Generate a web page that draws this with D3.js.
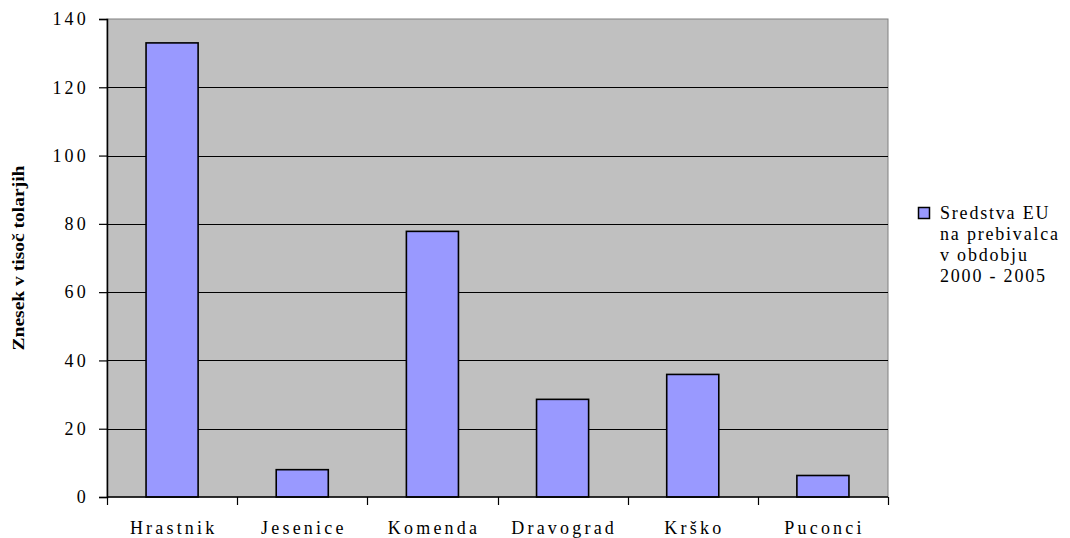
<!DOCTYPE html>
<html>
<head>
<meta charset="utf-8">
<script src="https://cdn.jsdelivr.net/npm/d3@7"></script>
<style>
  html, body { margin: 0; padding: 0; background: #ffffff; }
  svg { display: block; }
</style>
</head>
<body>
<svg id="chart" width="1070" height="538"></svg>
<script>
// Municipalities and EU funds per inhabitant (thousand tolars), 2000 - 2005
const categories = ["Hrastnik", "Jesenice", "Komenda", "Dravograd", "Krško", "Puconci"];
const values = [133, 8, 77.8, 28.6, 35.9, 6.3];
const yTicks = [0, 20, 40, 60, 80, 100, 120, 140];
const legendLines = ["Sredstva EU", "na prebivalca", "v obdobju", "2000 - 2005"];
const yTitle = "Znesek v tisoč tolarjih";

const SERIF = "'Times New Roman', 'Liberation Serif', 'DejaVu Serif', Times, serif";
const LS = 3.2;

const svg = d3.select("#chart");
const plot = { left: 107, right: 888, top: 19, bottom: 497 };

const x = d3.scaleBand()
  .domain(categories)
  .range([plot.left, plot.right])
  .paddingInner(0.6)
  .paddingOuter(0.3);

const xEdges = d3.scaleBand().domain(categories).range([plot.left, plot.right]);

const y = d3.scaleLinear().domain([0, 140]).range([plot.bottom, plot.top]);

// plot background
svg.append("rect")
  .attr("x", plot.left).attr("y", plot.top)
  .attr("width", plot.right - plot.left).attr("height", plot.bottom - plot.top)
  .attr("fill", "#c0c0c0").attr("stroke", "#808080").attr("stroke-width", 1);

// horizontal gridlines
svg.append("g").selectAll("line")
  .data(yTicks.filter(d => d > 0 && d < 140))
  .join("line")
  .attr("x1", plot.left).attr("x2", plot.right)
  .attr("y1", d => Math.round(y(d)) + 0.5).attr("y2", d => Math.round(y(d)) + 0.5)
  .attr("stroke", "#000").attr("stroke-width", 1);

// bars
svg.append("g").selectAll("rect")
  .data(values)
  .join("rect")
  .attr("x", (d, i) => x(categories[i]))
  .attr("width", x.bandwidth())
  .attr("y", d => y(d))
  .attr("height", d => y(0) - y(d))
  .attr("fill", "#9999ff")
  .attr("stroke", "#000")
  .attr("stroke-width", 1.6);

// y axis
const yAxis = d3.axisLeft(y).tickValues(yTicks).tickSize(8).tickPadding(10);
const gy = svg.append("g")
  .attr("transform", `translate(${plot.left},0)`)
  .call(yAxis)
  .attr("font-family", SERIF)
  .attr("font-size", 18);
gy.select(".domain").attr("stroke", "#000").attr("stroke-width", 1.5);
gy.selectAll(".tick line").attr("stroke", "#000").attr("stroke-width", 1.2);
gy.selectAll(".tick text")
  .attr("font-family", SERIF)
  .attr("letter-spacing", LS)
  .attr("fill", "#000");

// x axis: ticks sit on the category boundaries
const boundaries = categories.map(c => xEdges(c)).concat([plot.right]);
const gx = svg.append("g");
gx.append("line")
  .attr("x1", plot.left).attr("x2", plot.right)
  .attr("y1", plot.bottom).attr("y2", plot.bottom)
  .attr("stroke", "#000").attr("stroke-width", 1.5);
gx.selectAll("line.tk")
  .data(boundaries)
  .join("line")
  .attr("class", "tk")
  .attr("x1", d => Math.round(d) + 0.5).attr("x2", d => Math.round(d) + 0.5)
  .attr("y1", plot.bottom).attr("y2", plot.bottom + 8)
  .attr("stroke", "#000").attr("stroke-width", 1.2);
gx.selectAll("text")
  .data(categories)
  .join("text")
  .attr("x", d => xEdges(d) + xEdges.bandwidth() / 2 + LS / 2)
  .attr("y", 534)
  .attr("text-anchor", "middle")
  .attr("font-family", SERIF)
  .attr("font-size", 18)
  .attr("letter-spacing", LS)
  .text(d => d);

// y axis title
svg.append("text")
  .attr("transform", `translate(24,${(plot.top + plot.bottom) / 2}) rotate(-90)`)
  .attr("text-anchor", "middle")
  .attr("textLength", 185)
  .attr("lengthAdjust", "spacingAndGlyphs")
  .attr("font-family", SERIF)
  .attr("font-size", 17)
  .attr("font-weight", "bold")
  .text(yTitle);

// legend
const lg = svg.append("g");
lg.append("rect")
  .attr("x", 918.5).attr("y", 207.5)
  .attr("width", 11).attr("height", 11)
  .attr("fill", "#9999ff").attr("stroke", "#000").attr("stroke-width", 1.5);
lg.selectAll("text")
  .data(legendLines)
  .join("text")
  .attr("x", 940)
  .attr("y", (d, i) => 219 + i * 21)
  .attr("font-family", SERIF)
  .attr("font-size", 18)
  .attr("letter-spacing", 1.8)
  .text(d => d);
</script>
</body>
</html>
